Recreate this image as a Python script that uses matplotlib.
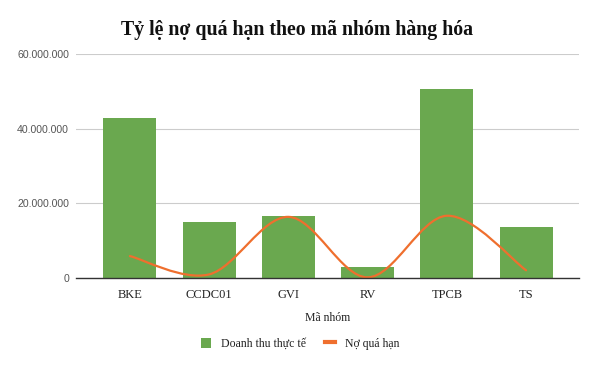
import numpy as np
import matplotlib
matplotlib.use("Agg")
import matplotlib.pyplot as plt
from matplotlib.path import Path
from matplotlib.patches import PathPatch
from matplotlib.lines import Line2D
from matplotlib.patches import Patch
import matplotlib.ticker as mtick

categories = ["BKE", "CCDC01", "GVI", "RV", "TPCB", "TS"]
doanh_thu = [42900000, 15000000, 16600000, 2900000, 50600000, 13700000]
no_qua_han = [5900000, 1000000, 16400000, 200000, 16700000, 2100000]
yticks = [0, 20000000, 40000000, 60000000]

green = '#6aa84f'
orange = '#ef6f2e'
serif = 'Liberation Serif'

fig = plt.figure(figsize=(5.94, 3.65), dpi=100)
ax = fig.add_axes([0.128, 0.238, 0.847, 0.614])

x = np.arange(len(categories))
ax.bar(x, doanh_thu, width=0.67, color=green, zorder=2)

# smooth line through the points (catmull-rom as cubic beziers)
pts = np.column_stack([x, no_qua_han]).astype(float)
verts = [tuple(pts[0])]
codes = [Path.MOVETO]
for i in range(len(pts) - 1):
    p0 = pts[i - 1] if i > 0 else pts[i]
    p1 = pts[i]
    p2 = pts[i + 1]
    p3 = pts[i + 2] if i + 2 < len(pts) else pts[i + 1]
    c1 = p1 + (p2 - p0) / 6
    c2 = p2 - (p3 - p1) / 6
    verts += [tuple(c1), tuple(c2), tuple(p2)]
    codes += [Path.CURVE4] * 3
ax.add_patch(PathPatch(Path(verts, codes), facecolor='none', edgecolor=orange,
                       lw=1.6, zorder=3, capstyle='round'))

ax.set_xlim(-0.68, 5.67)
ax.set_ylim(0, 60000000)
ax.set_yticks(yticks)
ax.yaxis.set_major_formatter(mtick.FuncFormatter(lambda v, p: f"{int(v):,}".replace(",", ".")))
ax.grid(axis='y', color='#cccccc', lw=0.8, zorder=0)
ax.set_axisbelow(True)
for s in ['top', 'right', 'left']:
    ax.spines[s].set_visible(False)
ax.spines['bottom'].set_color('#333333')
ax.spines['bottom'].set_linewidth(1.0)
ax.spines['bottom'].set_zorder(4)
ax.tick_params(axis='both', length=0)
ax.tick_params(axis='y', labelsize=7.6, labelcolor='#555555', pad=5)
ax.set_xticks(x)
ax.set_xticklabels(categories, fontfamily=serif, fontsize=9, color='#222222')
ax.tick_params(axis='x', pad=8)
for lab in ax.get_yticklabels():
    lab.set_fontfamily('Liberation Sans')

ax.set_xlabel("Mã nhóm", fontfamily=serif, fontsize=8.5, color='#222222', labelpad=8)
fig.text(0.5, 0.918, "Tỷ lệ nợ quá hạn theo mã nhóm hàng hóa", ha='center', va='center',
         fontfamily=serif, fontweight='bold', fontsize=14.3, color='#111111')

handles = [Patch(facecolor=green, label="Doanh thu thực tế"),
           Line2D([0], [0], color=orange, lw=3, label="Nợ quá hạn")]
leg = fig.legend(handles=handles, loc='center', bbox_to_anchor=(0.505, 0.058), ncol=2,
                 frameon=False, prop={'family': serif, 'size': 8.5}, handlelength=0.9,
                 handleheight=0.9, columnspacing=1.6, handletextpad=0.8)
for t in leg.get_texts():
    t.set_color('#222222')

fig.savefig("out.png", dpi=100)
